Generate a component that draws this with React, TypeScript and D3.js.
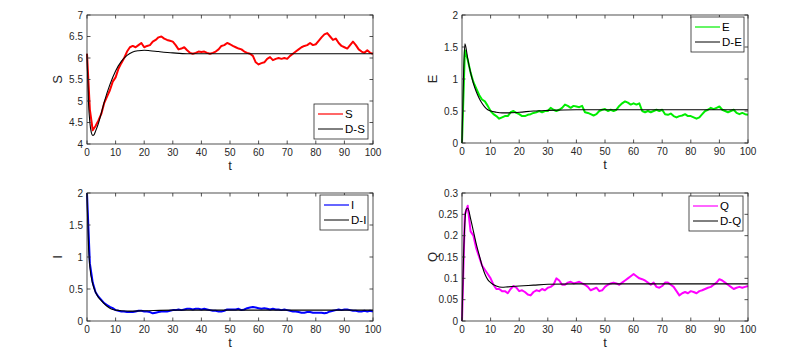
import React from 'react';
import * as d3 from 'd3';

// stochastic paths, one value per unit of t (t = 0..100)
const sStoch = [6.1, 4.8, 4.32, 4.42, 4.55, 4.7, 4.95, 5.1, 5.25, 5.45, 5.55, 5.75, 5.88, 6.0, 6.15, 6.25, 6.28, 6.25, 6.3, 6.35,
  6.25, 6.28, 6.3, 6.38, 6.42, 6.48, 6.5, 6.45, 6.42, 6.4, 6.38, 6.3, 6.2, 6.22, 6.25, 6.18, 6.12, 6.1, 6.12, 6.15,
  6.14, 6.15, 6.12, 6.1, 6.12, 6.15, 6.2, 6.28, 6.3, 6.35, 6.32, 6.28, 6.25, 6.22, 6.2, 6.15, 6.12, 6.1, 6.05, 5.9,
  5.85, 5.88, 5.9, 5.98, 6.02, 5.95, 5.98, 6.0, 5.98, 6.0, 5.98, 6.05, 6.1, 6.15, 6.2, 6.25, 6.28, 6.3, 6.35, 6.3,
  6.32, 6.4, 6.48, 6.55, 6.58, 6.5, 6.42, 6.45, 6.35, 6.28, 6.25, 6.22, 6.3, 6.38, 6.3, 6.2, 6.15, 6.12, 6.18, 6.12, 6.1];
const eStoch = [0, 1.45, 1.3, 1.1, 0.95, 0.85, 0.75, 0.68, 0.65, 0.58, 0.5, 0.45, 0.42, 0.38, 0.4, 0.42, 0.42, 0.48, 0.5, 0.47,
  0.45, 0.42, 0.42, 0.44, 0.45, 0.47, 0.48, 0.5, 0.48, 0.5, 0.5, 0.55, 0.52, 0.5, 0.52, 0.55, 0.6, 0.58, 0.55, 0.58,
  0.57, 0.56, 0.58, 0.48, 0.47, 0.45, 0.43, 0.45, 0.5, 0.52, 0.53, 0.5, 0.52, 0.5, 0.52, 0.58, 0.62, 0.65, 0.63, 0.6,
  0.62, 0.6, 0.62, 0.5, 0.48, 0.5, 0.48, 0.5, 0.52, 0.5, 0.52, 0.45, 0.44, 0.46, 0.42, 0.4, 0.42, 0.43, 0.45, 0.42,
  0.42, 0.4, 0.38, 0.4, 0.45, 0.5, 0.52, 0.55, 0.53, 0.55, 0.57, 0.52, 0.5, 0.48, 0.5, 0.52, 0.47, 0.45, 0.47, 0.45, 0.44];
const iStoch = [2.0, 0.9, 0.6, 0.45, 0.38, 0.33, 0.28, 0.25, 0.22, 0.2, 0.17, 0.16, 0.15, 0.15, 0.14, 0.14, 0.14, 0.15, 0.16, 0.16,
  0.15, 0.15, 0.14, 0.12, 0.13, 0.14, 0.15, 0.15, 0.15, 0.16, 0.17, 0.17, 0.18, 0.17, 0.18, 0.19, 0.19, 0.18, 0.19, 0.19,
  0.18, 0.19, 0.18, 0.17, 0.16, 0.16, 0.15, 0.15, 0.16, 0.18, 0.18, 0.18, 0.18, 0.19, 0.17, 0.18, 0.2, 0.21, 0.22, 0.21,
  0.2, 0.19, 0.2, 0.19, 0.18, 0.19, 0.18, 0.18, 0.17, 0.18, 0.17, 0.16, 0.15, 0.15, 0.14, 0.13, 0.13, 0.14, 0.14, 0.13,
  0.13, 0.13, 0.13, 0.12, 0.13, 0.15, 0.16, 0.17, 0.18, 0.17, 0.18, 0.18, 0.17, 0.16, 0.16, 0.15, 0.15, 0.16, 0.15, 0.16, 0.15];
const qStoch = [0, 0.25, 0.27, 0.21, 0.2, 0.17, 0.15, 0.13, 0.12, 0.11, 0.1, 0.085, 0.075, 0.075, 0.07, 0.07, 0.065, 0.075, 0.082, 0.078,
  0.07, 0.072, 0.068, 0.062, 0.06, 0.068, 0.072, 0.07, 0.075, 0.072, 0.078, 0.08, 0.085, 0.1, 0.095, 0.085, 0.085, 0.09, 0.092, 0.088,
  0.09, 0.092, 0.088, 0.085, 0.08, 0.072, 0.075, 0.078, 0.07, 0.072, 0.08, 0.085, 0.088, 0.09, 0.088, 0.085, 0.09, 0.095, 0.1, 0.105,
  0.11, 0.105, 0.1, 0.098, 0.095, 0.09, 0.085, 0.09, 0.08, 0.078, 0.082, 0.09, 0.09, 0.085, 0.08, 0.07, 0.06, 0.065, 0.068, 0.065,
  0.07, 0.068, 0.065, 0.07, 0.072, 0.075, 0.078, 0.08, 0.085, 0.09, 0.098, 0.095, 0.09, 0.085, 0.08, 0.075, 0.078, 0.08, 0.078, 0.08, 0.082];

// deterministic solutions as [t, value]
const sDet: [number, number][] = [[0, 6.1], [0.5, 5.0], [1, 4.5], [1.5, 4.27], [2, 4.2], [2.5, 4.22], [3, 4.3], [4, 4.48], [5, 4.72],
  [6, 4.97], [8, 5.38], [10, 5.7], [12, 5.92], [14, 6.06], [16, 6.14], [18, 6.17], [20, 6.18], [22, 6.17], [25, 6.15], [30, 6.12],
  [35, 6.1], [40, 6.1], [100, 6.1]];
const eDet: [number, number][] = [[0, 0], [0.5, 1.0], [1, 1.55], [1.5, 1.46], [2, 1.32], [3, 1.1], [4, 0.93], [5, 0.8], [6, 0.7],
  [7, 0.62], [8, 0.56], [9, 0.52], [10, 0.5], [12, 0.48], [14, 0.47], [16, 0.47], [20, 0.48], [25, 0.5], [30, 0.51], [40, 0.52], [100, 0.52]];
const iDet: [number, number][] = [[0, 2], [0.5, 1.2], [1, 0.85], [2, 0.58], [3, 0.45], [4, 0.37], [5, 0.32], [6, 0.27], [7, 0.23],
  [8, 0.2], [9, 0.18], [10, 0.17], [12, 0.16], [15, 0.155], [20, 0.16], [30, 0.17], [40, 0.17], [100, 0.17]];
const qDet: [number, number][] = [[0, 0], [0.5, 0.14], [1, 0.23], [1.5, 0.262], [2, 0.265], [3, 0.24], [4, 0.21], [5, 0.18], [6, 0.155],
  [7, 0.13], [8, 0.11], [9, 0.097], [10, 0.09], [12, 0.082], [14, 0.079], [16, 0.08], [20, 0.082], [25, 0.084], [30, 0.086], [40, 0.087], [100, 0.087]];

const xTicks = [0, 10, 20, 30, 40, 50, 60, 70, 80, 90, 100];
const sTicks = [4, 4.5, 5, 5.5, 6, 6.5, 7];
const eTicks = [0, 0.5, 1, 1.5, 2];
const iTicks = [0, 0.5, 1, 1.5, 2];
const qTicks = [0, 0.05, 0.1, 0.15, 0.2, 0.25, 0.3];

const FONT = 'Liberation Sans, Arial, sans-serif';
const AX = '#262626';

type PanelProps = {
  left: number; top: number; width: number; height: number;
  yDomain: [number, number]; yTicks: number[]; yLabel: string;
  stoch: number[]; det: [number, number][]; color: string; names: [string, string];
  legend: { x: number; y: number; w: number };
};

const Panel = ({ left, top, width, height, yDomain, yTicks, yLabel, stoch, det, color, names, legend }: PanelProps) => {
  const x = d3.scaleLinear().domain([0, 100]).range([left, left + width]);
  const y = d3.scaleLinear().domain(yDomain).range([top + height, top]);
  const stochLine = d3.line<number>().x((_, i) => x(i)).y((d) => y(d))(stoch) || '';
  const detLine = d3.line<[number, number]>().x((d) => x(d[0])).y((d) => y(d[1])).curve(d3.curveMonotoneX)(det) || '';
  const tl = 3.5;
  return (
    <g>
      <rect x={left} y={top} width={width} height={height} fill='white' />
      <path d={stochLine} fill='none' stroke={color} strokeWidth={2} strokeLinejoin='round' />
      <path d={detLine} fill='none' stroke='black' strokeWidth={1.1} />
      <rect x={left} y={top} width={width} height={height} fill='none' stroke={AX} strokeWidth={0.8} />
      {xTicks.map((t) => (
        <g key={'x' + t}>
          <line x1={x(t)} x2={x(t)} y1={top + height} y2={top + height - tl} stroke={AX} strokeWidth={0.8} />
          <line x1={x(t)} x2={x(t)} y1={top} y2={top + tl} stroke={AX} strokeWidth={0.8} />
          <text x={x(t)} y={top + height + 11.5} fontSize={10} fontFamily={FONT} textAnchor='middle' fill={AX}>{t}</text>
        </g>
      ))}
      {yTicks.map((t) => (
        <g key={'y' + t}>
          <line x1={left} x2={left + tl} y1={y(t)} y2={y(t)} stroke={AX} strokeWidth={0.8} />
          <line x1={left + width} x2={left + width - tl} y1={y(t)} y2={y(t)} stroke={AX} strokeWidth={0.8} />
          <text x={left - 4} y={y(t) + 3.5} fontSize={10} fontFamily={FONT} textAnchor='end' fill={AX}>{t}</text>
        </g>
      ))}
      <text x={left + width / 2} y={top + height + 26} fontSize={13} fontFamily={FONT} textAnchor='middle' fill={AX}>t</text>
      <text transform={`translate(${left - 25},${top + height / 2}) rotate(-90)`} fontSize={13} fontFamily={FONT} textAnchor='middle' fill={AX}>{yLabel}</text>
      <g transform={`translate(${legend.x},${legend.y})`}>
        <rect x={0} y={0} width={legend.w} height={35} fill='white' stroke={AX} strokeWidth={0.8} />
        <line x1={4} x2={29} y1={10} y2={10} stroke={color} strokeWidth={1.2} />
        <text x={31} y={14} fontSize={11.5} fontFamily={FONT} fill='black'>{names[0]}</text>
        <line x1={4} x2={29} y1={25} y2={25} stroke='black' strokeWidth={1} />
        <text x={31} y={29} fontSize={11.5} fontFamily={FONT} fill='black'>{names[1]}</text>
      </g>
    </g>
  );
};

const App = () => (
  <svg width={794} height={356} style={{ position: 'absolute', left: 0, top: 0, background: 'white' }}>
    <Panel left={87} top={15} width={286} height={129} yDomain={[4, 7]} yTicks={sTicks} yLabel='S'
      stoch={sStoch} det={sDet} color='#ff0000' names={['S', 'D-S']} legend={{ x: 314, y: 104, w: 54 }} />
    <Panel left={462} top={15} width={286} height={128} yDomain={[0, 2]} yTicks={eTicks} yLabel='E'
      stoch={eStoch} det={eDet} color='#00ee00' names={['E', 'D-E']} legend={{ x: 691, y: 17, w: 53 }} />
    <Panel left={87} top={193} width={286} height={128} yDomain={[0, 2]} yTicks={iTicks} yLabel='I'
      stoch={iStoch} det={iDet} color='#0000ff' names={['I', 'D-I']} legend={{ x: 320, y: 195, w: 48 }} />
    <Panel left={462} top={193} width={286} height={128} yDomain={[0, 0.3]} yTicks={qTicks} yLabel='Q'
      stoch={qStoch} det={qDet} color='#ff00ff' names={['Q', 'D-Q']} legend={{ x: 689, y: 196, w: 54 }} />
  </svg>
);

export default App;
